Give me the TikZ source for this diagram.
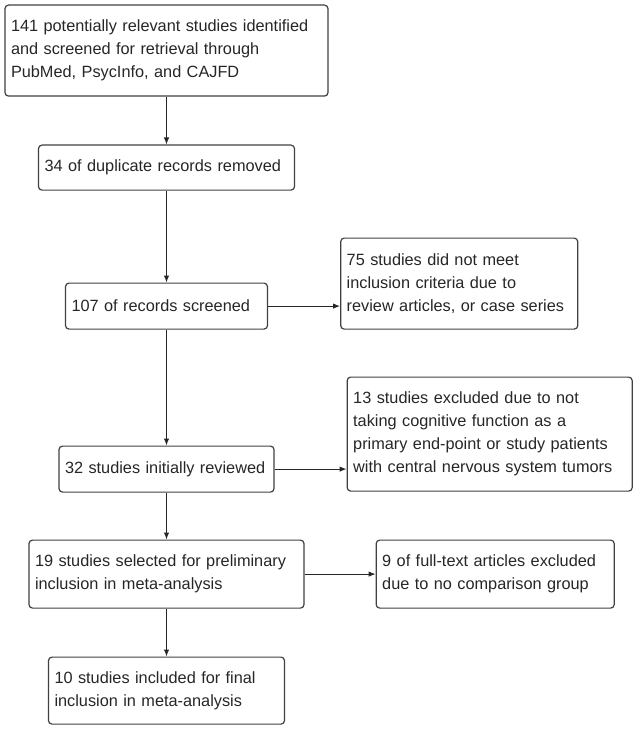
\documentclass[tikz,border=0pt]{standalone}
\usepackage{fontspec}
\setmainfont{Liberation Sans}
\usepackage{tikz}
\usetikzlibrary{arrows.meta, positioning}

\begin{document}
\begin{tikzpicture}[x=1pt,y=1pt,->,>={Latex[length=7pt,width=5.5pt]},
  line width=1.1pt,draw=black!85,
  main node/.style={rectangle,draw=black!75,rounded corners=3.5pt,line width=1.2pt,
    align=left,inner xsep=6pt,inner ysep=3pt,text=black!85,
    font=\fontsize{16.3pt}{23pt}\selectfont}]

  \useasboundingbox (0,0) rectangle (636,-730);

  \node[main node, text width=311pt, minimum height=91pt, anchor=north] (1) at (166.5,-4.5)
    {141 potentially relevant studies identified\\and screened for retrieval through\\PubMed, PsycInfo, and CAJFD};
  \node[main node, text width=244pt, minimum height=45pt] (2) [below=47.8pt of 1]
    {34 of duplicate records removed};
  \node[main node, text width=190pt, minimum height=46pt] (3) [below=91.8pt of 2]
    {107 of records screened};
  \node[main node, text width=225pt, minimum height=91pt] (4) [right=72pt of 3, yshift=22.5pt]
    {75 studies did not meet\\inclusion criteria due to\\review articles, or case series};
  \node[main node, text width=203pt, minimum height=46pt] (5) [below=115.8pt of 3]
    {32 studies initially reviewed};
  \node[main node, text width=273pt, minimum height=114pt] (6) [right=72pt of 5, yshift=35pt]
    {13 studies excluded due to not\\taking cognitive function as a\\primary end-point or study patients\\with central nervous system tumors};
  \node[main node, text width=263pt, minimum height=68pt] (7) [below=46.8pt of 5]
    {19 studies selected for preliminary\\inclusion in meta-analysis};
  \node[main node, text width=226pt, minimum height=68pt] (8) [right=71pt of 7]
    {9 of full-text articles excluded\\due to no comparison group};
  \node[main node, text width=224pt, minimum height=67pt] (9) [below=47.8pt of 7]
    {10 studies included for final\\inclusion in meta-analysis};

  \path
    (1) edge (2)
    (2) edge (3)
    (3) edge (5)
    (5) edge (7)
    (7) edge (9);
  \draw (3.east) -- (3.east -| 4.west);
  \draw (5.east) -- (5.east -| 6.west);
  \draw (7.east) -- (8.west);
\end{tikzpicture}
\end{document}
